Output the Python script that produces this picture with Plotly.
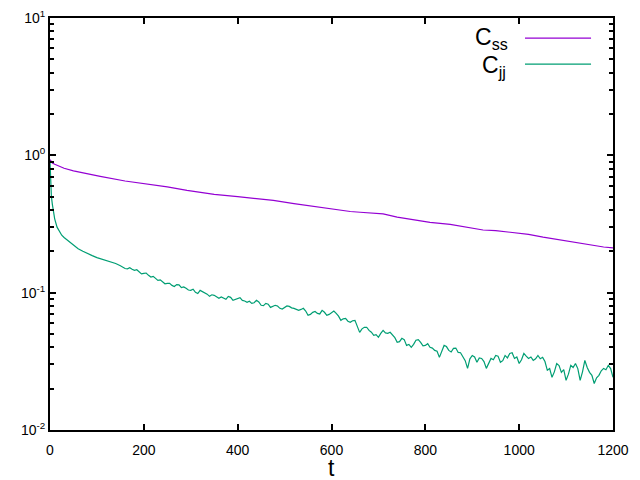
import plotly.graph_objects as go

# ---- data ----
t_ss = [0, 2, 5, 10, 20, 30, 50, 75, 107, 160, 200, 250, 292, 350, 400, 440, 476, 520,
        550, 600, 640, 661, 710, 740, 774, 810, 853, 890, 923, 950, 980, 1020, 1051,
        1094, 1120, 1151, 1180, 1200]
c_ss = [0.93, 0.90, 0.88, 0.86, 0.83, 0.805, 0.77, 0.737, 0.703, 0.65, 0.625, 0.59, 0.556,
        0.52, 0.50, 0.485, 0.47, 0.445, 0.43, 0.41, 0.39, 0.385, 0.375, 0.355, 0.338,
        0.325, 0.314, 0.298, 0.286, 0.283, 0.276, 0.266, 0.254, 0.24, 0.232, 0.222,
        0.215, 0.212]

t_jj_early = [0, 1, 2, 3, 5, 7, 10, 15, 20, 25, 30, 40, 50, 60, 70, 80, 90, 100, 110,
              120, 130, 140, 150]
c_jj_early = [0.90, 0.72, 0.58, 0.50, 0.44, 0.395, 0.345, 0.30, 0.278, 0.262, 0.252, 0.236,
              0.220, 0.209, 0.200, 0.194, 0.186, 0.180, 0.176, 0.171, 0.167, 0.163, 0.157]
t_jj_late = list(range(160, 1201, 10))
c_jj_late = [0.150, 0.1520, 0.1454, 0.1429, 0.138, 0.1337, 0.1314, 0.1229, 0.119, 0.1169,
             0.113, 0.1145, 0.109, 0.1075, 0.1039, 0.1005, 0.1039, 0.0988, 0.094, 0.0956,
             0.0909, 0.0915, 0.094, 0.0879, 0.0909, 0.0879, 0.085, 0.0836, 0.0879, 0.0809,
             0.0836, 0.0781, 0.0809, 0.0769, 0.0781, 0.0794, 0.0769, 0.0743, 0.0769, 0.0684,
             0.0719, 0.0707, 0.0743, 0.0684, 0.0719, 0.0707, 0.0629, 0.065, 0.0608, 0.0629,
             0.0514, 0.0559, 0.0531, 0.0489, 0.0473, 0.0531, 0.0506, 0.0489, 0.0435, 0.0465,
             0.0413, 0.0400, 0.0450, 0.0435, 0.0413, 0.0400, 0.0380, 0.0338, 0.0413, 0.0380,
             0.0393, 0.0367, 0.0338, 0.0281, 0.0349, 0.0311, 0.0332, 0.0281, 0.0332, 0.0349,
             0.0311, 0.0349, 0.0361, 0.0332, 0.0305, 0.0361, 0.0332, 0.0321, 0.0349, 0.0338,
             0.0272, 0.0242, 0.0305, 0.0263, 0.0230, 0.0296, 0.0305, 0.0230, 0.0321, 0.0263,
             0.0218, 0.0250, 0.0281, 0.0296, 0.0242]
t_jj_mid = list(range(165, 1200, 10))
c_jj_mid = [0.149, 0.148, 0.147, 0.137, 0.139, 0.130, 0.128, 0.124, 0.116, 0.117,
            0.111, 0.114, 0.110, 0.1045, 0.1060, 0.0985, 0.1020, 0.0975, 0.0965, 0.0935,
            0.0930, 0.0895, 0.0925, 0.0895, 0.0920, 0.0870, 0.0865, 0.0845, 0.0855, 0.0805,
            0.0825, 0.0790, 0.0800, 0.0760, 0.0800, 0.0775, 0.0760, 0.0755, 0.0735, 0.0695,
            0.0730, 0.0700, 0.0720, 0.0695, 0.0735, 0.0675, 0.0645, 0.0620, 0.0625, 0.0570,
            0.0545, 0.0560, 0.0515, 0.0495, 0.0505, 0.0510, 0.0515, 0.0470, 0.0440, 0.0455,
            0.0420, 0.0420, 0.0455, 0.0410, 0.0425, 0.0395, 0.0375, 0.0370, 0.0405, 0.0370,
            0.0395, 0.0365, 0.0320, 0.0330, 0.0340, 0.0335, 0.0315, 0.0310, 0.0325, 0.0345,
            0.0320, 0.0335, 0.0365, 0.0340, 0.0325, 0.0345, 0.0340, 0.0330, 0.0330, 0.0315,
            0.0280, 0.0265, 0.0295, 0.0275, 0.0255, 0.0285, 0.0280, 0.0265, 0.0285, 0.0250,
            0.0240, 0.0270, 0.0275, 0.0280]

late_pairs = sorted(zip(t_jj_late + t_jj_mid, c_jj_late + c_jj_mid))
t_jj = t_jj_early + [p[0] for p in late_pairs]
c_jj = c_jj_early + [p[1] for p in late_pairs]

x_ticks = [0, 200, 400, 600, 800, 1000, 1200]
y_ticks = [0.01, 0.1, 1, 10]
y_ticktext = ["10<sup>-2</sup>", "10<sup>-1</sup>", "10<sup>0</sup>", "10<sup>1</sup>"]
y_minor = [0.02, 0.03, 0.04, 0.05, 0.06, 0.07, 0.08, 0.09,
           0.2, 0.3, 0.4, 0.5, 0.6, 0.7, 0.8, 0.9,
           2, 3, 4, 5, 6, 7, 8, 9]

PURPLE = "#9400D3"
GREEN = "#009E73"
FONT = "Liberation Sans"

fig = go.Figure()
fig.add_trace(go.Scatter(x=t_ss, y=c_ss, mode="lines", line=dict(color=PURPLE, width=1.2),
                         showlegend=False))
fig.add_trace(go.Scatter(x=t_jj, y=c_jj, mode="lines", line=dict(color=GREEN, width=1.2),
                         showlegend=False))

fig.update_layout(
    width=640, height=480,
    margin=dict(l=50, r=27, t=18, b=50, autoexpand=False),
    paper_bgcolor="white", plot_bgcolor="white",
    font=dict(family=FONT, size=14, color="black"),
    showlegend=False,
)
fig.update_xaxes(
    range=[0, 1200], tickvals=x_ticks, ticks="inside", ticklen=6, tickwidth=1.5,
    tickcolor="black", showline=True, linecolor="black", linewidth=2, mirror="ticks",
    showgrid=False, zeroline=False, automargin=False, ticklabelstandoff=6,
    tickfont=dict(size=14, family=FONT),
)
fig.update_yaxes(
    type="log", range=[-2, 1], tickvals=y_ticks, ticktext=y_ticktext,
    ticks="inside", ticklen=6, tickwidth=1.5, tickcolor="black",
    minor=dict(ticks="inside", ticklen=4, tickcolor="black", tickwidth=1.5,
               tickmode="array", tickvals=y_minor, showgrid=False),
    showline=True, linecolor="black", linewidth=2, mirror="ticks",
    showgrid=False, zeroline=False, automargin=False,
    tickfont=dict(size=14, family=FONT),
)

# x-axis title
fig.add_annotation(xref="paper", yref="paper", x=0.5, y=-0.093, text="t",
                   showarrow=False, xanchor="center", yanchor="middle",
                   font=dict(size=23, family=FONT))

# gnuplot-style key (text right-aligned, line sample to the right)
fig.add_annotation(xref="paper", yref="paper", x=0.817, y=0.950, text="C<sub>ss</sub>",
                   showarrow=False, xanchor="right", yanchor="middle",
                   font=dict(size=23, family=FONT))
fig.add_annotation(xref="paper", yref="paper", x=0.8135, y=0.882, text="C<sub>jj</sub>",
                   showarrow=False, xanchor="right", yanchor="middle",
                   font=dict(size=23, family=FONT))
fig.add_shape(type="line", xref="paper", yref="paper", x0=0.8437, x1=0.961, y0=0.951,
              y1=0.951, line=dict(color=PURPLE, width=1.2))
fig.add_shape(type="line", xref="paper", yref="paper", x0=0.8437, x1=0.961, y0=0.888,
              y1=0.888, line=dict(color=GREEN, width=1.2))

fig.write_html("out.html")
